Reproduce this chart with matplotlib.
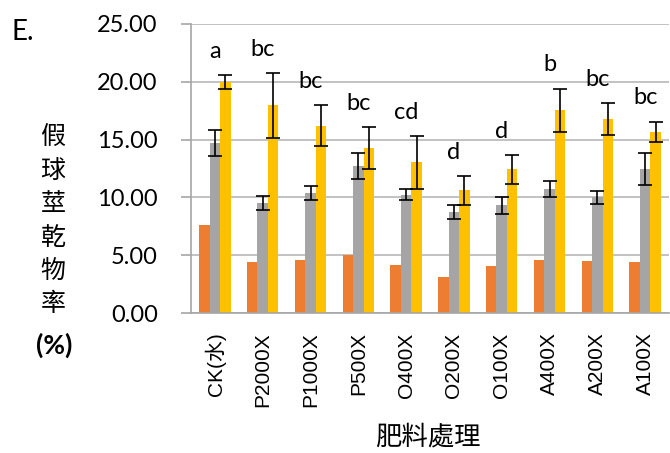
import matplotlib
matplotlib.use("Agg")
import matplotlib.pyplot as plt
import numpy as np

# 處理名稱
treatments = ['CK(水)', 'P2000X', 'P1000X', 'P500X', 'O400X',
              'O200X', 'O100X', 'A400X', 'A200X', 'A100X']

# 三組數值
orange_vals = [7.6, 4.38, 4.58, 4.99, 4.15, 3.11, 4.06, 4.55, 4.47, 4.38]
gray_vals = [14.7, 9.55, 10.4, 12.7, 10.25, 8.75, 9.3, 10.72, 10.0, 12.45]
gray_err = [1.1, 0.6, 0.6, 1.15, 0.5, 0.6, 0.7, 0.67, 0.55, 1.35]
yellow_vals = [19.95, 17.95, 16.2, 14.27, 13.03, 10.62, 12.42, 17.52, 16.77, 15.66]
yellow_err = [0.6, 2.8, 1.75, 1.8, 2.3, 1.25, 1.24, 1.9, 1.4, 0.9]
sig_letters = ['a', 'bc', 'bc', 'bc', 'cd', 'd', 'd', 'b', 'bc', 'bc']

yticks = [0, 5, 10, 15, 20, 25]

fig = plt.figure(figsize=(6.7, 4.53), dpi=100)
ax = fig.add_axes([191 / 670, 140 / 453, 478 / 670, 289 / 453])

x = np.arange(len(treatments))
w = 0.22
ax.bar(x - w, orange_vals, w, color='#ED7D31', zorder=2)
ax.bar(x, gray_vals, w, color='#A5A5A5', zorder=2)
ax.bar(x + w, yellow_vals, w, color='#FFC000', zorder=2)

ekw = dict(fmt='none', ecolor='black', elinewidth=1.2, capsize=5, capthick=1.2, zorder=3)
ax.errorbar(x, gray_vals, yerr=gray_err, **ekw)
ax.errorbar(x + w, yellow_vals, yerr=yellow_err, **ekw)

# 顯著性字母
for i, lab in enumerate(sig_letters):
    top = yellow_vals[i] + yellow_err[i]
    ax.annotate(lab, (i, top), xytext=(0, 17), textcoords='offset points',
                ha='center', va='center', fontsize=17, family='Lato')

ax.set_xlim(-0.5, len(treatments) - 0.5)
ax.set_ylim(0, 25)
ax.set_yticks(yticks)
ax.set_yticklabels(['%.2f' % v for v in yticks], fontsize=17, family='Lato')
ax.set_xticks(x)
ax.set_xticklabels(treatments, rotation=90, fontsize=15,
                   family=['Liberation Sans', 'Noto Sans CJK TC'])
ax.tick_params(axis='x', length=0, pad=14)
ax.tick_params(axis='y', length=7, color='#A6A6A6', width=1.2, pad=17)

ax.grid(axis='y', color='#BDBDBD', linewidth=1.3, zorder=0)
ax.set_axisbelow(True)
for s in ['top', 'right']:
    ax.spines[s].set_visible(False)
ax.spines['left'].set_color('#A6A6A6')
ax.spines['bottom'].set_color('#A6A6A6')
ax.spines['left'].set_linewidth(1.2)
ax.spines['bottom'].set_linewidth(1.2)

# 縱軸標題 (直書)
ylab = '\n'.join('假球莖乾物率')
fig.text(53 / 670, 1 - 221 / 453, ylab, ha='center', va='center', fontsize=18,
         family='Noto Sans CJK TC', weight='medium', linespacing=1.36)
fig.text(54 / 670, 1 - 345 / 453, '(%)', ha='center', va='center', fontsize=19,
         family='Lato', weight='bold')

fig.text(428 / 670, 1 - 437 / 453, '肥料處理', ha='center', va='center',
         fontsize=19, family='Noto Sans CJK TC')
fig.text(11 / 670, 1 - 32 / 453, 'E.', ha='left', va='center', fontsize=20, family='Lato')

fig.savefig('out.png', dpi=100)
